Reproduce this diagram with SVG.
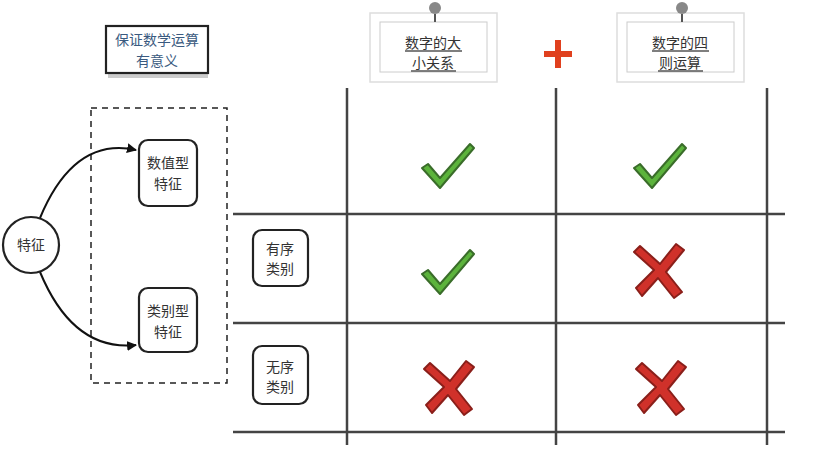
<svg xmlns="http://www.w3.org/2000/svg" width="821" height="454" viewBox="0 0 821 454">
<defs>
<style>
text{font-family:"Noto Sans CJK SC",sans-serif;font-size:14px;fill:#333;text-anchor:middle}
.box{fill:#fff;stroke:#222;stroke-width:2.2}
.grid{stroke:#444;stroke-width:2.5}
.card{fill:#fff;stroke:#ddd;stroke-width:1.5}
.ul{stroke:#555;stroke-width:1.5}
</style>
<marker id="ah" markerWidth="10" markerHeight="10" refX="9" refY="5" orient="auto" markerUnits="userSpaceOnUse"><path d="M0,0 L10,5 L0,10 z" fill="#111"/></marker>
<g id="check"><path d="M-20,2 L-8,16 L22,-18 L26,-14 L-8,26 L-26,6 Z" fill="#5cb33c" stroke="#3a6d2a" stroke-width="2" stroke-linejoin="round"/></g>
<g id="cross"><path d="M-20,-22 L0,-4 L16,-24 L24,-18 L6,4 L22,24 L14,30 L-2,10 L-18,28 L-24,20 L-6,2 L-26,-16 Z" fill="#d0312a" stroke="#8a1f1a" stroke-width="2" stroke-linejoin="round"/></g>
</defs>
<rect width="821" height="454" fill="#fff"/>
<g id="grid">
<line class="grid" x1="347" y1="88" x2="347" y2="445"/>
<line class="grid" x1="556" y1="88" x2="556" y2="445"/>
<line class="grid" x1="767" y1="88" x2="767" y2="445"/>
<line class="grid" x1="233" y1="214" x2="785" y2="214"/>
<line class="grid" x1="233" y1="323" x2="785" y2="323"/>
<line class="grid" x1="233" y1="432" x2="785" y2="432"/>
</g>
<g id="title">
<rect x="108" y="32" width="100" height="46" fill="#999" opacity="0.5"/>
<rect class="box" x="106" y="26" width="102" height="47" stroke-width="2"/>
<text x="157" y="45" fill="#3a5a80" style="fill:#3a5a80">保证数学运算</text>
<text x="157" y="66" style="fill:#3a5a80">有意义</text>
</g>
<rect x="91" y="108" width="136" height="275" fill="none" stroke="#222" stroke-width="1.5" stroke-dasharray="6,5"/>
<g id="n-root"><circle class="box" cx="31" cy="245" r="28"/><text x="31" y="250">特征</text></g>
<g id="n-num"><rect class="box" x="139" y="140" width="58" height="66" rx="9"/><text x="168" y="168">数值型</text><text x="168" y="189">特征</text></g>
<g id="n-cat"><rect class="box" x="139" y="288" width="58" height="64" rx="9"/><text x="168" y="316">类别型</text><text x="168" y="337">特征</text></g>
<g id="n-ord"><rect class="box" x="253" y="230" width="55" height="56" rx="9" stroke-width="1.8"/><text x="280" y="254">有序</text><text x="280" y="274">类别</text></g>
<g id="n-unord"><rect class="box" x="253" y="346" width="55" height="58" rx="9" stroke-width="1.8"/><text x="280" y="372">无序</text><text x="280" y="392">类别</text></g>
<g id="connectors">
<path d="M40,218 C60,170 90,140 136,150" fill="none" stroke="#111" stroke-width="2" marker-end="url(#ah)"/>
<path d="M40,272 C60,320 90,350 136,345" fill="none" stroke="#111" stroke-width="2" marker-end="url(#ah)"/>
</g>
<g id="h1">
<rect class="card" x="370" y="13" width="127" height="69"/>
<rect x="380" y="22" width="107" height="50" fill="none" stroke="#ccc"/>
<circle cx="435" cy="8" r="6" fill="#888"/><line x1="435" y1="14" x2="435" y2="22" stroke="#555" stroke-width="2"/>
<text x="433" y="48">数字的大</text><line class="ul" x1="405" y1="51" x2="462" y2="51"/>
<text x="433" y="68">小关系</text><line class="ul" x1="411" y1="71" x2="456" y2="71"/>
</g>
<g id="plus"><rect x="544" y="51" width="28" height="6" fill="#e0401e"/><rect x="555" y="40" width="6" height="28" fill="#e0401e"/></g>
<g id="h2">
<rect class="card" x="617" y="13" width="127" height="69"/>
<rect x="627" y="22" width="107" height="50" fill="none" stroke="#ccc"/>
<circle cx="682" cy="8" r="6" fill="#888"/><line x1="682" y1="14" x2="682" y2="22" stroke="#555" stroke-width="2"/>
<text x="680" y="48">数字的四</text><line class="ul" x1="652" y1="51" x2="709" y2="51"/>
<text x="680" y="68">则运算</text><line class="ul" x1="658" y1="71" x2="703" y2="71"/>
</g>
<use href="#check" x="448" y="162"/>
<use href="#check" x="660" y="162"/>
<use href="#check" x="448" y="268"/>
<use href="#cross" x="660" y="268"/>
<use href="#cross" x="450" y="385"/>
<use href="#cross" x="662" y="385"/>
</svg>
